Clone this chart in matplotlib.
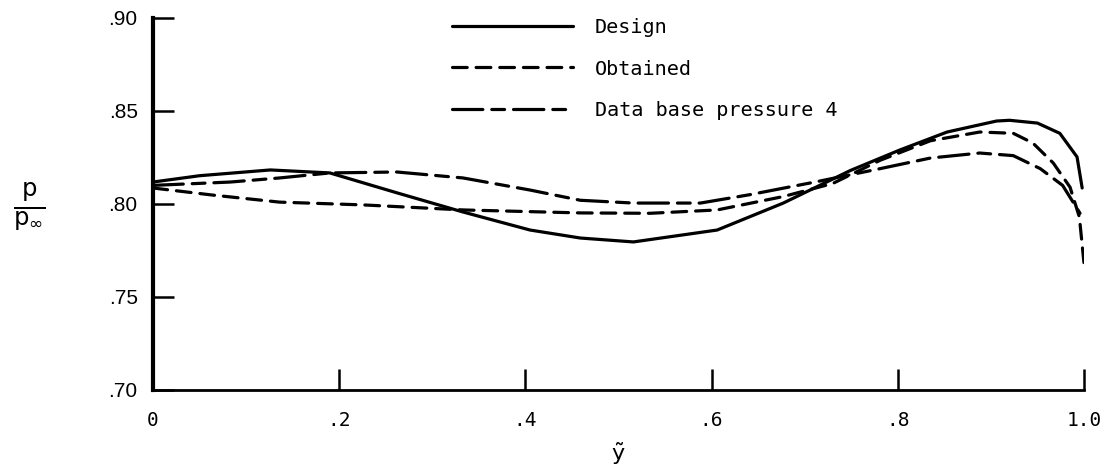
import matplotlib.pyplot as plt
import numpy as np

# Values
design_y = [0.0, 0.05, 0.126, 0.19, 0.262, 0.333, 0.405, 0.459, 0.516, 0.606,
            0.677, 0.749, 0.802, 0.853, 0.906, 0.92, 0.95, 0.974, 0.9925, 0.998]
design_p = [0.8118, 0.8152, 0.8183, 0.8167, 0.806, 0.7957, 0.786, 0.7817, 0.7796, 0.786,
            0.8005, 0.818, 0.829, 0.8387, 0.8446, 0.845, 0.8435, 0.838, 0.8253, 0.8086]

obtained_y = [0.0, 0.064, 0.136, 0.226, 0.333, 0.459, 0.534, 0.606, 0.677, 0.73,
              0.781, 0.835, 0.888, 0.924, 0.945, 0.967, 0.985, 0.995, 1.0]
obtained_p = [0.8086, 0.8048, 0.801, 0.7995, 0.7968, 0.7952, 0.795, 0.7968, 0.804, 0.811,
              0.8235, 0.834, 0.8387, 0.838, 0.8328, 0.822, 0.809, 0.793, 0.768]

database_y = [0.0, 0.083, 0.136, 0.19, 0.262, 0.333, 0.405, 0.459, 0.516, 0.588,
              0.641, 0.713, 0.781, 0.835, 0.888, 0.924, 0.953, 0.977, 0.9957]
database_p = [0.810, 0.8118, 0.814, 0.8167, 0.8172, 0.814, 0.8075, 0.802, 0.8005, 0.8005,
              0.805, 0.812, 0.819, 0.8247, 0.8274, 0.826, 0.819, 0.810, 0.795]

x_ticks = [0, 0.2, 0.4, 0.6, 0.8, 1.0]
x_tick_labels = ['0', '.2', '.4', '.6', '.8', '1.0']
y_ticks = [0.70, 0.75, 0.80, 0.85, 0.90]
y_tick_labels = ['.70', '.75', '.80', '.85', '.90']

mono = 'DejaVu Sans Mono'

fig = plt.figure(figsize=(11.1, 4.76), dpi=100)
ax = fig.add_axes([0.1378, 0.1807, 0.9766 - 0.1378, 0.9622 - 0.1807])

lw = 2.3
ax.plot(design_y, design_p, color='black', linewidth=lw, solid_capstyle='round',
        label='Design')
ax.plot(obtained_y, obtained_p, color='black', linewidth=lw,
        linestyle=(0, (4.6, 2.8)), dash_capstyle='round', label='Obtained')
ax.plot(database_y, database_p, color='black', linewidth=lw,
        linestyle=(0, (9.5, 2.8, 4.0, 2.8)), dash_capstyle='round',
        label='Data base pressure 4')

ax.set_xlim(0, 1.0)
ax.set_ylim(0.70, 0.90)

for side in ['top', 'right']:
    ax.spines[side].set_visible(False)
ax.spines['left'].set_linewidth(3.0)
ax.spines['bottom'].set_linewidth(2.0)

ax.set_xticks(x_ticks)
ax.set_xticklabels(x_tick_labels, fontsize=14, family=mono)
ax.set_yticks(y_ticks)
ax.set_yticklabels(y_tick_labels, fontsize=15, family='Liberation Sans')
ax.tick_params(axis='x', direction='in', length=15, width=1.8, pad=15)
ax.tick_params(axis='y', direction='in', length=15, width=1.8, pad=11)

ax.set_xlabel(r'$\tilde{\mathrm{y}}$', fontsize=16, labelpad=8)
fig.text(29 / 1110, 1 - 207 / 476, r'$\frac{\mathrm{p}}{\mathrm{p}_{\infty}}$',
         fontsize=25, ha='center', va='center')

ax.legend(loc='upper left', bbox_to_anchor=((452 - 153) / 931, 1.0 - 0 / 372),
          frameon=False, prop={'family': mono, 'size': 14.5},
          handlelength=6.0, handletextpad=1.1, labelspacing=1.12,
          borderaxespad=0, borderpad=0)

fig.savefig('out.png', dpi=100)
